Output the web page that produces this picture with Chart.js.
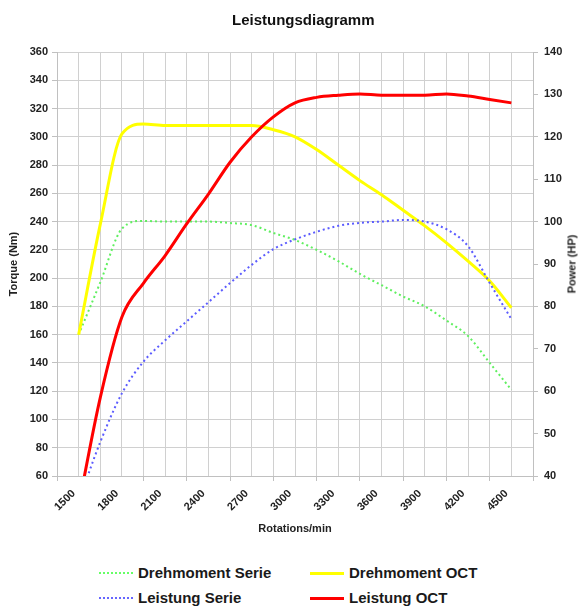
<!DOCTYPE html>
<html><head><meta charset="utf-8">
<script src="https://cdn.jsdelivr.net/npm/chart.js@4/dist/chart.umd.min.js"></script>
<style>
html,body{margin:0;padding:0;background:#fff;}
#wrap{position:relative;width:579px;height:606px;overflow:hidden;background:#fff;}
#c{position:absolute;left:0;top:0;}
.lg{position:absolute;font:bold 15px "Liberation Sans",Arial,sans-serif;color:#1a1a1a;line-height:20px;white-space:nowrap;display:flex;align-items:center;}
.sw{display:inline-block;width:34px;height:0;margin-right:5px;}
#title{position:absolute;left:232px;top:11px;font:bold 15px "Liberation Sans",Arial,sans-serif;color:#111;line-height:18px;white-space:nowrap;}
#ptitle{position:absolute;left:572px;top:264px;font:bold 11px "Liberation Sans",Arial,sans-serif;color:#222;white-space:nowrap;transform:translate(-50%,-50%) rotate(-90deg);line-height:13px;}
</style></head><body>
<div id="wrap">
<canvas id="c" width="579" height="545"></canvas>
<div id="title">Leistungsdiagramm</div>
<div id="ptitle">Power (HP)</div>
<div class="lg" style="left:99px;top:563px"><span class="sw" style="border-top:2px dotted #66ff66"></span>Drehmoment Serie</div>
<div class="lg" style="left:310px;top:563px"><span class="sw" style="border-top:3px solid #ffff00"></span>Drehmoment OCT</div>
<div class="lg" style="left:99px;top:588px"><span class="sw" style="border-top:2px dotted #6666ff"></span>Leistung Serie</div>
<div class="lg" style="left:310px;top:588px"><span class="sw" style="border-top:3px solid #ff0000"></span>Leistung OCT</div>
</div>
<script>
const rpm = [1500,1650,1800,1950,2100,2250,2400,2550,2700,2850,3000,3150,3300,3450,3600,3750,3900,4050,4200,4350,4500];
const xTickLabels = ['1500','1800','2100','2400','2700','3000','3300','3600','3900','4200','4500'];
const torqueSerie = [160,197,235,240.5,240,240,240,239,237.5,232,227,220,212,203,195,187,180,170,159,140,121];
const torqueOCT   = [160,238,302,309,308,308,308,308,308,305,300,291,280,269,259,248,237,225,212,198,179];
const powerSerie  = [34,48,59.5,67,72,76.5,81,85.5,89.8,93.5,95.8,97.6,99,99.7,100,100.4,100,98.2,94.2,85.5,77];
const powerOCT    = [33,58.5,77.5,85.5,92,99.5,106.5,114,120,124.7,128,129.3,129.8,130.1,129.8,129.8,129.8,130.1,129.6,128.8,128];

const FAM = '"Liberation Sans", Arial, sans-serif';
Chart.defaults.font.family = FAM;
Chart.defaults.color = '#222';

const pts = arr => rpm.map((r,i)=>({x:r,y:arr[i]}));
const GRID = '#d0d0d0';

new Chart(document.getElementById('c'), {
  type: 'line',
  data: {
    datasets: [
      {label:'Drehmoment Serie', data:pts(torqueSerie), yAxisID:'y', borderColor:'#5fef5f', borderWidth:2, borderDash:[2,3], order:3},
      {label:'Drehmoment OCT', data:pts(torqueOCT), yAxisID:'y', borderColor:'#ffff00', borderWidth:3, order:2},
      {label:'Leistung Serie', data:pts(powerSerie), yAxisID:'y1', borderColor:'#5c5cff', borderWidth:2, borderDash:[2,3], order:1},
      {label:'Leistung OCT', data:pts(powerOCT), yAxisID:'y1', borderColor:'#ff0000', borderWidth:3, order:0}
    ]
  },
  options: {
    responsive:false,
    animation:false,
    devicePixelRatio:1,
    layout:{padding:{top:52,left:0,right:0,bottom:0}},
    elements:{point:{radius:0}, line:{cubicInterpolationMode:'monotone', fill:false}},
    plugins:{
      legend:{display:false},
      tooltip:{enabled:false},
      title:{display:false}
    },
    scales:{
      x:{
        type:'linear', min:1350, max:4650,
        afterFit(s){ s.height = 69; },
        ticks:{stepSize:150, autoSkip:false, maxTicksLimit:100, minRotation:45, maxRotation:45, padding:6, labelOffset:-5,
          font:{size:11, weight:'bold'}, color:'#222',
          callback:(v)=> xTickLabels.includes(String(v)) ? String(v) : ''},
        grid:{color:GRID, lineWidth:1, tickLength:5,
          tickColor:(ctx)=> (ctx.tick && ((ctx.tick.value-1350)%300===0)) ? '#c0c0c0' : 'rgba(0,0,0,0)'},
        border:{color:'#c0c0c0'},
        title:{display:true, text:'Rotations/min', color:'#222', font:{size:11, weight:'bold'}, padding:{top:0,bottom:9}}
      },
      y:{
        position:'left', min:60, max:360,
        afterFit(s){ s.width = 57; },
        ticks:{stepSize:20, maxTicksLimit:100, padding:4, font:{size:11, weight:'bold'}, color:'#222'},
        grid:{color:GRID, lineWidth:1, tickLength:5, tickColor:'#c0c0c0'},
        border:{color:'#c0c0c0'},
        title:{display:true, text:'Torque (Nm)', color:'#222', font:{size:11, weight:'bold'}, padding:{top:7,bottom:0}}
      },
      y1:{
        position:'right', min:40, max:140,
        afterFit(s){ s.width = 46; },
        ticks:{stepSize:10, maxTicksLimit:100, padding:6, font:{size:11, weight:'bold'}, color:'#222'},
        grid:{drawOnChartArea:false, color:'#c0c0c0', tickLength:5},
        border:{color:'#c0c0c0'},
        title:{display:false}
      }
    }
  }
});
</script>
</body></html>
